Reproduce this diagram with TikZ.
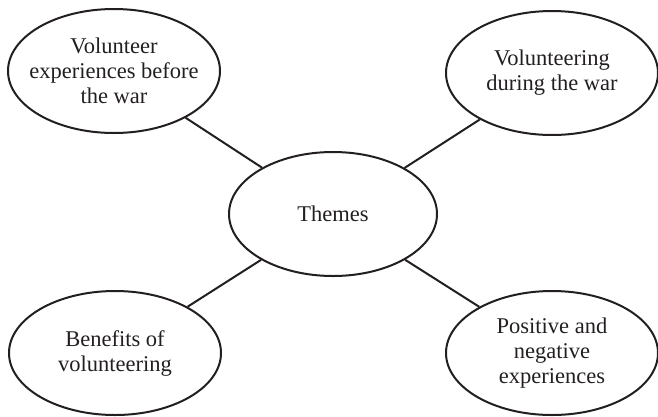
\documentclass[tikz,border=0pt]{standalone}
\usepackage{fontspec}
\setmainfont{Liberation Serif}
\usetikzlibrary{shapes.geometric}
\definecolor{inkdark}{HTML}{231F20}

\begin{document}
\begin{tikzpicture}[
    x=1pt, y=-1pt,
    theme/.style={ellipse, draw=inkdark, text=inkdark, line width=2pt, align=center,
        inner xsep=-30pt, inner ysep=0pt, font=\fontsize{22.5}{25}\selectfont},
    hub/.style={theme, minimum width=208pt, minimum height=124pt},
    leaf/.style={theme, minimum width=212pt, minimum height=124pt},
    link/.style={draw=inkdark, line width=2pt}
]
\useasboundingbox (0,0) rectangle (658,416);

\node[hub] (themes) at (333,214) {Themes};
\node[leaf] (before) at (114,71) {Volunteer\\experiences before\\the war};
\node[leaf] (during) at (552,73) {Volunteering\\during the war};
\node[leaf] (benefits) at (115,353) {Benefits of\\volunteering};
\node[leaf] (posneg) at (552,353) {Positive and\\negative\\experiences};

\draw[link] (before) -- (themes);
\draw[link] (during) -- (themes);
\draw[link] (benefits) -- (themes);
\draw[link] (posneg) -- (themes);

\end{tikzpicture}
\end{document}
